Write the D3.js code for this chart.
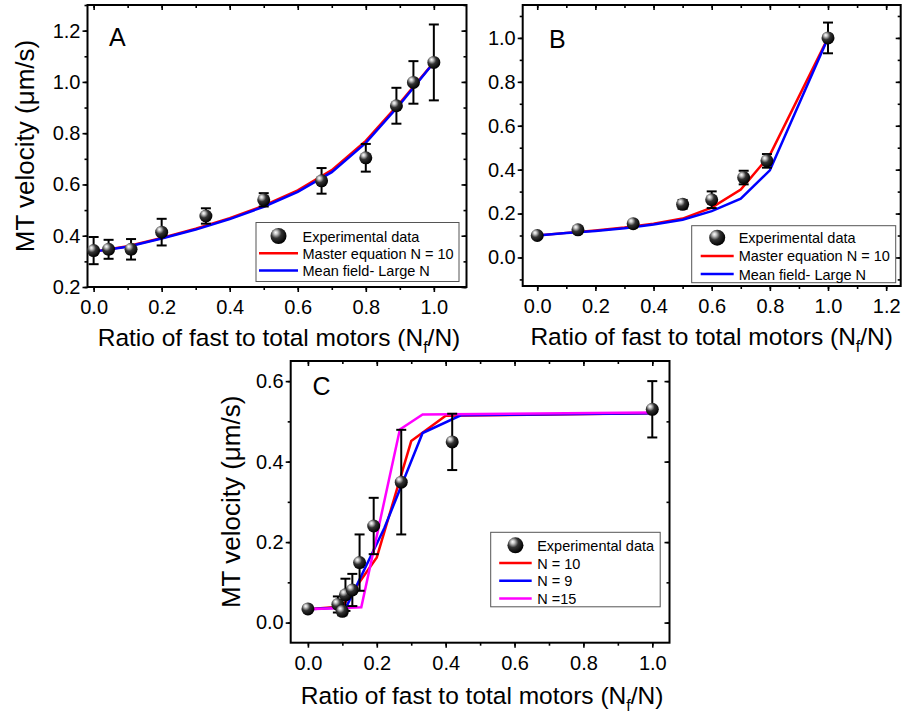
<!DOCTYPE html>
<meta charset="utf-8">
<head>
  <title>MT velocity vs fast motor ratio</title>
</head>
<style>
body { margin: 0; background: #fff; }
svg { font-family: "Liberation Sans", Arial, Helvetica, sans-serif; }
</style>
<body>
<svg width="904" height="718"></svg>
<script src="https://cdnjs.cloudflare.com/ajax/libs/d3/7.8.5/d3.min.js"></script>
<script>
// panel A: experimental points + two model curves
var aX = [0, 0.044, 0.11, 0.2, 0.33, 0.5, 0.67, 0.8, 0.89, 0.94, 1.0];
var aY = [0.342, 0.347, 0.347, 0.414, 0.477, 0.540, 0.614, 0.704, 0.907, 0.998, 1.076];
var aErr = [0.053, 0.037, 0.04, 0.052, 0.03, 0.026, 0.05, 0.054, 0.07, 0.083, 0.148];
var aLineX = [0, 0.1, 0.2, 0.3, 0.4, 0.5, 0.6, 0.7, 0.8, 0.9, 1.0];
var aMaster = [0.338, 0.359, 0.391, 0.427, 0.468, 0.517, 0.577, 0.656, 0.770, 0.918, 1.076];
var aMean = [0.338, 0.357, 0.389, 0.424, 0.465, 0.513, 0.571, 0.648, 0.762, 0.912, 1.076];

// panel B
var bX = [0, 0.14, 0.33, 0.5, 0.6, 0.71, 0.79, 1.0];
var bY = [0.100, 0.126, 0.154, 0.242, 0.263, 0.364, 0.44, 1.0];
var bErr = [0, 0, 0, 0.02, 0.038, 0.031, 0.031, 0.07];
var bLineX = [0, 0.1, 0.2, 0.3, 0.4, 0.5, 0.6, 0.7, 0.8, 1.0];
var bMaster = [0.1, 0.112, 0.123, 0.136, 0.154, 0.177, 0.227, 0.309, 0.466, 1.0];
var bMean = [0.1, 0.111, 0.121, 0.133, 0.150, 0.172, 0.211, 0.268, 0.397, 1.0];

// panel C
var cX = [0, 0.087, 0.1, 0.109, 0.129, 0.15, 0.191, 0.271, 0.419, 1.0];
var cY = [0.034, 0.045, 0.028, 0.069, 0.081, 0.149, 0.24, 0.349, 0.449, 0.53];
var cErr = [0, 0.02, 0.01, 0.04, 0.04, 0.07, 0.07, 0.13, 0.07, 0.07];
var cN10X = [0, 0.1, 0.2, 0.3, 0.4, 1.0];
var cN10Y = [0.033, 0.04, 0.162, 0.451, 0.514, 0.52];
var cN9X = [0, 0.111, 0.222, 0.333, 0.444, 1.0];
var cN9Y = [0.033, 0.038, 0.235, 0.471, 0.515, 0.52];
var cN15X = [0, 0.155, 0.267, 0.333, 1.0];
var cN15Y = [0.033, 0.038, 0.48, 0.517, 0.522];

var svg = d3.select('svg');

var defs = svg.append('defs');
var grad = defs.append('radialGradient').attr('id', 'ball')
  .attr('cx', '38%').attr('cy', '35%').attr('r', '65%').attr('fx', '32%').attr('fy', '28%');
grad.append('stop').attr('offset', '0%').attr('stop-color', '#ffffff');
grad.append('stop').attr('offset', '18%').attr('stop-color', '#c8c8c8');
grad.append('stop').attr('offset', '50%').attr('stop-color', '#333');
grad.append('stop').attr('offset', '100%').attr('stop-color', '#000');

function zip(xs, ys) { return xs.map(function(d, i) { return [d, ys[i]]; }); }

function panel(p) {
  var x = d3.scaleLinear().domain(p.xd).range([p.l, p.r]);
  var y = d3.scaleLinear().domain(p.yd).range([p.b, p.t]);
  var g = svg.append('g');
  var fmt = d3.format('.1f');

  var xMinor = d3.range(p.xt[0], p.xt[1] + 0.001, 0.1);
  var yMinor = d3.range(p.yMinor[0], p.yMinor[1] + 0.001, 0.1);
  var xMajor = d3.range(p.xt[0], p.xt[1] + 0.001, 0.2);
  var yMajor = d3.range(p.yt[0], p.yt[1] + 0.001, 0.2);

  function ax(gen, tr, size, vals, labels) {
    var a = g.append('g').attr('transform', tr)
      .call(gen.tickValues(vals).tickSize(size).tickSizeOuter(0).tickPadding(labels ? 2 : 0)
        .tickFormat(labels ? fmt : ''));
    a.select('.domain').remove();
    a.selectAll('line').attr('stroke', '#000').attr('stroke-width', 1.6);
    a.selectAll('text').attr('font-size', 20).attr('fill', '#000').attr('font-family', null);
    return a;
  }
  // bottom / left outward, top / right inward
  ax(d3.axisBottom(x), 'translate(0,' + p.b + ')', 3, xMinor, false);
  var bx = ax(d3.axisBottom(x), 'translate(0,' + p.b + ')', 5, xMajor, true);
  bx.selectAll('text').attr('y', 13);
  ax(d3.axisLeft(y), 'translate(' + p.l + ',0)', 3, yMinor, false);
  ax(d3.axisLeft(y), 'translate(' + p.l + ',0)', 5, yMajor, true);
  ax(d3.axisTop(x), 'translate(0,' + p.t + ')', -3, xMinor, false);
  ax(d3.axisTop(x), 'translate(0,' + p.t + ')', -5, xMajor, false);
  ax(d3.axisRight(y), 'translate(' + p.r + ',0)', -3, yMinor, false);
  ax(d3.axisRight(y), 'translate(' + p.r + ',0)', -5, yMajor, false);

  g.append('rect').attr('x', p.l).attr('y', p.t).attr('width', p.r - p.l).attr('height', p.b - p.t)
    .attr('fill', 'none').attr('stroke', '#000').attr('stroke-width', 2);

  var line = d3.line().x(function(d) { return x(d[0]); }).y(function(d) { return y(d[1]); });
  p.lines.forEach(function(s) {
    g.append('path').datum(zip(s.x, s.y)).attr('d', line)
      .attr('fill', 'none').attr('stroke', s.color).attr('stroke-width', 2.5);
  });

  var pts = p.px.map(function(d, i) { return {x: d, y: p.py[i], e: p.pe[i]}; });
  var eb = g.append('g').attr('stroke', '#000').attr('stroke-width', 2);
  pts.filter(function(d) { return d.e > 0; }).forEach(function(d) {
    var cx = x(d.x);
    eb.append('line').attr('x1', cx).attr('x2', cx).attr('y1', y(d.y - d.e)).attr('y2', y(d.y + d.e));
    eb.append('line').attr('x1', cx - 5).attr('x2', cx + 5).attr('y1', y(d.y - d.e)).attr('y2', y(d.y - d.e));
    eb.append('line').attr('x1', cx - 5).attr('x2', cx + 5).attr('y1', y(d.y + d.e)).attr('y2', y(d.y + d.e));
  });
  g.selectAll('circle.pt').data(pts).enter().append('circle').attr('class', 'pt')
    .attr('cx', function(d) { return x(d.x); }).attr('cy', function(d) { return y(d.y); })
    .attr('r', 6.5).attr('fill', 'url(#ball)');

  // panel letter
  g.append('text').attr('x', p.letter[1]).attr('y', p.letter[2]).attr('font-size', 25).text(p.letter[0]);

  // axis titles
  var xt = g.append('text').attr('x', (p.l + p.r) / 2 + p.xTitleDx).attr('y', p.xTitleY)
    .attr('text-anchor', 'middle').attr('font-size', 24.5);
  xt.append('tspan').text('Ratio of fast to total motors (N');
  xt.append('tspan').attr('font-size', 16).attr('dy', 7).text('f');
  xt.append('tspan').attr('dy', -7).text('/N)');
  if (p.yTitleX != null) {
    g.append('text').attr('transform', 'translate(' + p.yTitleX + ',' + ((p.t + p.b) / 2) + ') rotate(-90)')
      .attr('text-anchor', 'middle').attr('font-size', 26).text('MT velocity (\u03bcm/s)');
  }

  // legend
  var L = p.legend;
  g.append('rect').attr('x', L.x).attr('y', L.y).attr('width', L.w).attr('height', L.h)
    .attr('fill', '#fff').attr('stroke', '#555').attr('stroke-width', 1);
  L.items.forEach(function(it, i) {
    var yy = L.y + L.first + i * L.step;
    if (it.color) {
      g.append('line').attr('x1', L.x + L.l0).attr('x2', L.x + L.l1).attr('y1', yy).attr('y2', yy)
        .attr('stroke', it.color).attr('stroke-width', 2.5);
    } else {
      g.append('circle').attr('cx', L.x + (L.l0 + L.l1) / 2).attr('cy', yy).attr('r', 8).attr('fill', 'url(#ball)');
    }
    g.append('text').attr('x', L.x + L.tx).attr('y', yy + 5.5).attr('font-size', 14.5).text(it.label);
  });
}

panel({
  l: 87.5, r: 466.5, t: 5, b: 287, xd: [-0.018, 1.096], yd: [0.2, 1.3],
  xt: [0, 1.0], yt: [0.2, 1.2], yMinor: [0.2, 1.3],
  px: aX, py: aY, pe: aErr,
  lines: [{x: aLineX, y: aMaster, color: '#ff0000'}, {x: aLineX, y: aMean, color: '#0000ff'}],
  letter: ['A', 109, 46], xTitleY: 346, xTitleDx: 2, yTitleX: 34,
  legend: {x: 256, y: 222.5, w: 203, h: 59, first: 13.5, step: 17.3, l0: 3, l1: 42, tx: 46.5,
    items: [{label: 'Experimental data'}, {label: 'Master equation N = 10', color: '#ff0000'},
      {label: 'Mean field- Large N', color: '#0000ff'}]}
});

panel({
  l: 522.7, r: 900.7, t: 5, b: 286, xd: [-0.05, 1.25], yd: [-0.13, 1.15],
  xt: [0, 1.2], yt: [0, 1.0], yMinor: [-0.1, 1.1],
  px: bX, py: bY, pe: bErr,
  lines: [{x: bLineX, y: bMaster, color: '#ff0000'}, {x: bLineX, y: bMean, color: '#0000ff'}],
  letter: ['B', 549, 48], xTitleY: 345, xTitleDx: 0, yTitleX: null,
  legend: {x: 691.7, y: 225.7, w: 204, h: 57, first: 12, step: 18.2, l0: 9, l1: 42, tx: 47,
    items: [{label: 'Experimental data'}, {label: 'Master equation N = 10', color: '#ff0000'},
      {label: 'Mean field- Large N', color: '#0000ff'}]}
});

panel({
  l: 290.7, r: 669.5, t: 361, b: 642.7, xd: [-0.05, 1.05], yd: [-0.05, 0.65],
  xt: [0, 1.0], yt: [0, 0.6], yMinor: [0, 0.6],
  px: cX, py: cY, pe: cErr,
  lines: [{x: cN10X, y: cN10Y, color: '#ff0000'}, {x: cN9X, y: cN9Y, color: '#0000ff'},
    {x: cN15X, y: cN15Y, color: '#ff00ff'}],
  letter: ['C', 312.5, 395], xTitleY: 704, xTitleDx: 2, yTitleX: 240,
  legend: {x: 490.7, y: 532.3, w: 169.5, h: 74.5, first: 13, step: 17.7, l0: 8.5, l1: 41, tx: 46.5,
    items: [{label: 'Experimental data'}, {label: 'N = 10', color: '#ff0000'},
      {label: 'N = 9', color: '#0000ff'}, {label: 'N =15', color: '#ff00ff'}]}
});
</script>
</body>
</html>
